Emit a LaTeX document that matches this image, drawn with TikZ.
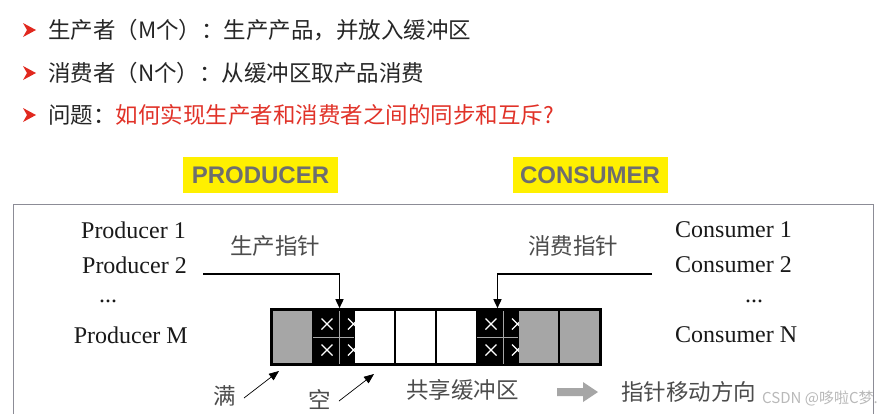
\documentclass[tikz,border=0pt]{standalone}
\usepackage{fontspec}
\setmainfont{Liberation Serif}
\newfontfamily\cjk{Noto Sans CJK SC}
\newfontfamily\hsans{Liberation Sans}
\usetikzlibrary{arrows.meta,calc}
\definecolor{bulred}{RGB}{225,40,30}
\definecolor{txtred}{RGB}{225,50,40}
\definecolor{ylw}{RGB}{255,240,0}
\definecolor{lblgray}{RGB}{110,110,110}
\definecolor{cellgray}{RGB}{166,166,166}
\definecolor{framegray}{RGB}{140,140,150}
\begin{document}
\begin{tikzpicture}[x=1pt,y=-1pt,
  bullet/.style={fill=bulred,draw=none},
  topline/.style={anchor=west,inner sep=0pt,font=\cjk\fontsize{22.5}{22.5}\selectfont,text=black!85},
  tag/.style={fill=ylw,inner sep=0pt,minimum width=155pt,minimum height=36pt,font=\hsans\bfseries\fontsize{24}{24}\selectfont,text=lblgray},
  actor/.style={inner sep=0pt,font=\fontsize{24}{24}\selectfont,text=black!90},
  zh/.style={inner sep=0pt,font=\cjk\fontsize{22.5}{22.5}\selectfont,text=black!70},
  cell/.style={draw=black,line width=1.6pt,minimum width=41pt,minimum height=54pt,inner sep=0pt},
  ptr/.style={draw=black,line width=1.5pt,-{Triangle[length=9pt,width=8pt]}},
  thin/.style={draw=black,line width=0.7pt,-{Triangle[length=10pt,width=8pt]}}
]
\useasboundingbox (0,0) rectangle (895,413);
\fill[white] (0,0) rectangle (895,413);

% bullets
\foreach \yy in {30,73,115}{
  \fill[bullet] (23,\yy-7) -- (36,\yy) -- (23,\yy+7) -- (27,\yy) -- cycle;
}
\node[topline] (l1) at (48,30) {生产者（M个）：生产产品，并放入缓冲区};
\node[topline] (l2) at (48,73) {消费者（N个）：从缓冲区取产品消费};
\node[topline] (l3) at (48,115) {问题：\textcolor{txtred}{如何实现生产者和消费者之间的同步和互斥?}};

% tags
\node[tag] (prod) at (260.5,175) {PRODUCER};
\node[tag] (cons) at (590,175) {CONSUMER};

% frame
\draw[framegray,line width=1pt] (13,420) -- (13,204) -- (873,204) -- (873,420);

% actors
\node[actor,anchor=east] (p1) at (186,230) {Producer 1};
\node[actor,anchor=east] (p2) at (187,265) {Producer 2};
\node[actor] (pd) at (108,301) {...};
\node[actor,anchor=east] (pm) at (188,335) {Producer M};
\node[actor,anchor=west] (q1) at (675,230) {Consumer 1};
\node[actor,anchor=west] (q2) at (675,265) {Consumer 2};
\node[actor] (qd) at (754,301) {...};
\node[actor,anchor=west] (qn) at (675,335) {Consumer N};

% pointer labels
\node[zh] (pl) at (275,246) {生产指针};
\node[zh] (cl) at (573,246) {消费指针};

% buffer cells
\foreach \i/\f in {1/cellgray,2/black,3/white,4/white,5/white,6/black,7/cellgray,8/cellgray}{
  \node[cell,fill=\f] (c\i) at ({272+20.5+41*(\i-1)},337) {};
}
% crossed details in black cells
\foreach \c in {2,6}{
  \begin{scope}
    \clip (c\c.south west) rectangle (c\c.north east);
    \draw[gray!70,line width=0.8pt] ($(c\c.west)+(1,0)$) -- ($(c\c.east)+(-1,0)$);
    \draw[gray!70,line width=0.8pt] ($(c\c.north)+(6,1)$) -- ($(c\c.south)+(6,-1)$);
    \foreach \dy in {-13,13}{
      \coordinate (xa) at ($(c\c.center)+(-6.5,\dy)$);
      \coordinate (xb) at ($(c\c.center)+(20,\dy)$);
      \draw[white,line width=1.1pt] ($(xa)+(-5.5,-5.5)$) -- ($(xa)+(5.5,5.5)$) ($(xa)+(-5.5,5.5)$) -- ($(xa)+(5.5,-5.5)$);
      \draw[white,line width=1.1pt] ($(xb)+(-5.5,-5.5)$) -- ($(xb)+(5.5,5.5)$) ($(xb)+(-5.5,5.5)$) -- ($(xb)+(5.5,-5.5)$);
    }
  \end{scope}
}
\draw[black,line width=2.6pt] (c1.north west) rectangle (c8.south east);

% pointers
\coordinate (ps) at (203,274);
\coordinate (pt) at ($(c2.north)+(6,-1)$);
\draw[ptr] (ps) -| (pt);
\coordinate (cs) at (652,274);
\coordinate (ct) at ($(c6.north)+(0,-1)$);
\draw[ptr] (cs) -| (ct);

% full / empty
\node[zh] (full) at (225,396) {满};
\node[zh] (empty) at (320,399) {空};
\coordinate (fs) at (244,398);
\coordinate (ft) at (279,371);
\draw[thin] (fs) -- (ft);
\coordinate (es) at (339,401);
\coordinate (et) at (374,374);
\draw[thin] (es) -- (et);

\node[zh,anchor=west] (shared) at (406,390) {共享缓冲区};

% direction arrow
\fill[gray!70] (557,388) -- (583,388) -- (583,382) -- (598,392) -- (583,402) -- (583,396) -- (557,396) -- cycle;
\node[zh,anchor=west] (dir) at (621,392) {指针移动方向};
\node[inner sep=0pt,anchor=west,text=gray!55,font=\cjk\fontsize{15}{15}\selectfont] (wm) at (762,398) {CSDN @哆啦C梦.};
\end{tikzpicture}
\end{document}
